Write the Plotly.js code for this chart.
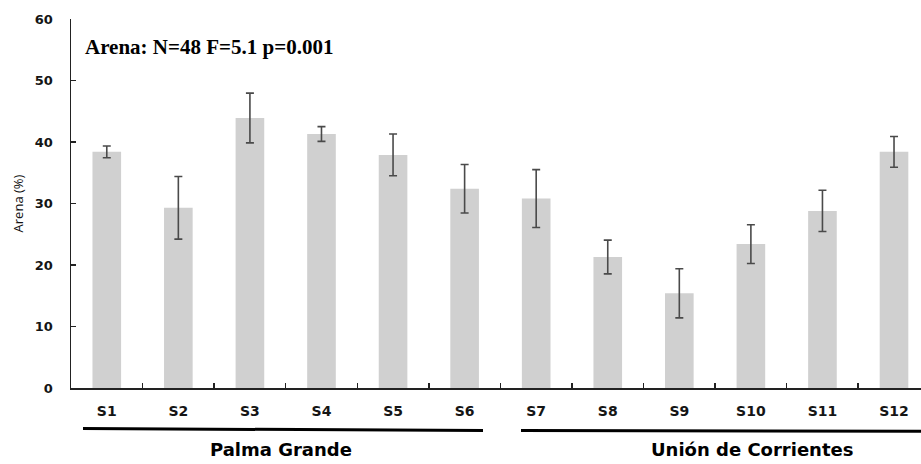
<!DOCTYPE html>
<html>
<head>
<meta charset="utf-8">
<script src="https://cdn.plot.ly/plotly-3.0.1.min.js"></script>
<style>
  html, body { margin: 0; padding: 0; background: #ffffff; }
  #chart { width: 921px; height: 464px; }
</style>
</head>
<body>
<div id="chart"></div>
<script>
// Sand content (%) per site, mean and error
const sites = ["S1", "S2", "S3", "S4", "S5", "S6", "S7", "S8", "S9", "S10", "S11", "S12"];
const arenaMean = [38.4, 29.3, 43.9, 41.3, 37.9, 32.4, 30.8, 21.3, 15.4, 23.4, 28.8, 38.4];
const arenaErr = [0.95, 5.1, 4.05, 1.2, 3.4, 3.95, 4.7, 2.75, 4.0, 3.15, 3.35, 2.5];
const yTicks = [0, 10, 20, 30, 40, 50, 60];
const groupNames = ["Palma Grande", "Unión de Corrientes"];
const statsLabel = "Arena: N=48 F=5.1 p=0.001";

const tickFont = { family: "DejaVu Sans", size: 13, color: "#151515", weight: "bold" };

const trace = {
  type: "bar",
  x: sites,
  y: arenaMean,
  width: 0.4,
  marker: { color: "#d0d0d0", line: { width: 0 } },
  error_y: {
    type: "data",
    array: arenaErr,
    visible: true,
    color: "#4a4a4a",
    thickness: 1.6,
    width: 4
  },
  hoverinfo: "x+y"
};

const layout = {
  width: 921,
  height: 464,
  margin: { l: 71, r: 0, t: 19, b: 76 },
  paper_bgcolor: "#ffffff",
  plot_bgcolor: "#ffffff",
  showlegend: false,
  bargap: 0.6,
  xaxis: {
    type: "category",
    range: [-0.5, 11.377],
    showline: true,
    linecolor: "#222222",
    linewidth: 1.5,
    ticks: "inside",
    tickson: "boundaries",
    ticklen: 5,
    tickwidth: 1.5,
    tickcolor: "#222222",
    showgrid: false,
    zeroline: false,
    ticklabelstandoff: 10,
    tickfont: { family: "DejaVu Sans", size: 14, color: "#151515", weight: "bold" }
  },
  yaxis: {
    range: [0, 60],
    tickvals: yTicks,
    ticktext: yTicks.map(String),
    showline: true,
    linecolor: "#222222",
    linewidth: 1.5,
    ticks: "inside",
    ticklen: 5,
    tickwidth: 1.5,
    tickcolor: "#222222",
    showgrid: false,
    zeroline: false,
    ticklabelstandoff: 14,
    tickfont: tickFont,
    title: {
      text: "Arena (%)",
      standoff: 8,
      font: { family: "Open Sans", size: 13, color: "#111111" }
    }
  },
  annotations: [
    {
      text: statsLabel,
      xref: "paper", yref: "paper",
      x: 12 / 850, y: 0.924,
      xanchor: "left", yanchor: "middle",
      showarrow: false,
      font: { family: "Liberation Serif", size: 21, color: "#000000", weight: "bold" }
    },
    {
      text: groupNames[0],
      xref: "x", yref: "paper",
      x: 2.43, y: -0.168,
      xanchor: "center", yanchor: "middle",
      showarrow: false,
      font: { family: "DejaVu Sans", size: 18, color: "#000000", weight: "bold" }
    },
    {
      text: groupNames[1],
      xref: "x", yref: "paper",
      x: 9.02, y: -0.168,
      xanchor: "center", yanchor: "middle",
      showarrow: false,
      font: { family: "DejaVu Sans", size: 18, color: "#000000", weight: "bold" }
    }
  ],
  shapes: [
    {
      type: "line", xref: "x", yref: "paper",
      x0: -0.332, x1: 5.257, y0: -0.1098, y1: -0.1152,
      line: { color: "#000000", width: 3 }
    },
    {
      type: "line", xref: "x", yref: "paper",
      x0: 5.788, x1: 11.4, y0: -0.1152, y1: -0.117,
      line: { color: "#000000", width: 3 }
    }
  ]
};

Plotly.newPlot("chart", [trace], layout, { displayModeBar: false, staticPlot: true });
</script>
</body>
</html>
